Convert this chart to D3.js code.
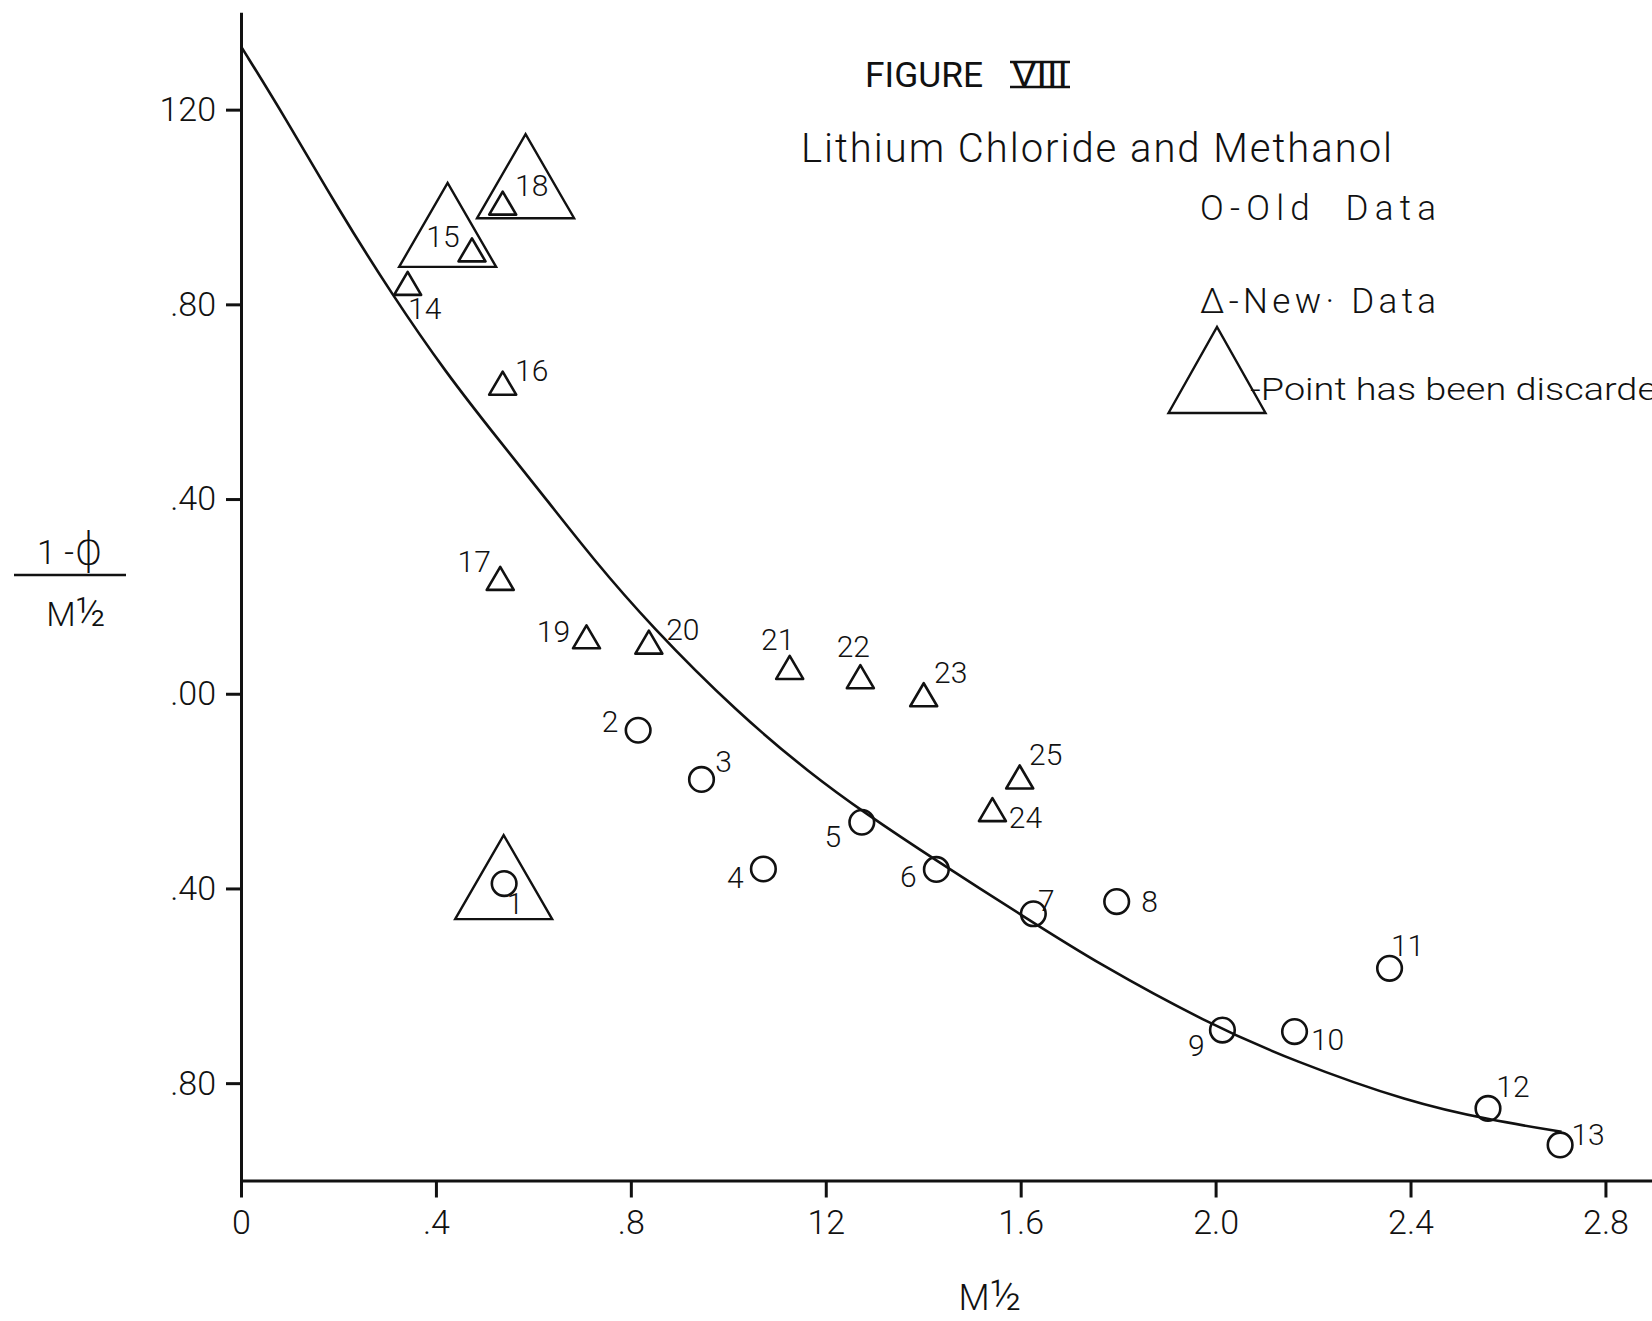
<!DOCTYPE html>
<html>
<head>
<meta charset="utf-8">
<script src="https://cdn.jsdelivr.net/npm/d3@7"></script>
<style>
  body { margin: 0; background: #fff; }
  svg { display: block; }
  text { font-family: "Roboto", "DejaVu Sans", sans-serif; font-weight: 300; fill: #111; white-space: pre; }
</style>
</head>
<body>
<script>
// Old data (circles), point number and M^1/2 , (1-phi)/M^1/2
const oldIds = [1, 2, 3, 4, 5, 6, 7, 8, 9, 10, 11, 12, 13];
const oldX = [0.540, 0.815, 0.945, 1.072, 1.274, 1.427, 1.626, 1.797, 2.014, 2.162, 2.357, 2.559, 2.707];
const oldY = [-0.390, -0.075, -0.176, -0.360, -0.264, -0.361, -0.452, -0.427, -0.691, -0.694, -0.564, -0.852, -0.927];

// New data (small triangles)
const newIds = [14, 15, 16, 17, 18, 19, 20, 21, 22, 23, 24, 25];
const newX = [0.342, 0.474, 0.537, 0.532, 0.537, 0.709, 0.837, 1.126, 1.271, 1.401, 1.542, 1.598];
const newY = [0.843, 0.912, 0.638, 0.237, 1.008, 0.117, 0.106, 0.054, 0.035, -0.002, -0.238, -0.171];

// Discarded points: big triangle, base midpoint
const discardedIds = [1, 15, 18];
const discardedX = [0.539, 0.424, 0.584];
const discardedY = [-0.463, 0.877, 0.977];

// Hand drawn fitted curve
const curveX = [0.00, 0.09, 0.20, 0.31, 0.42, 0.53, 0.63, 0.72, 0.84, 1.02, 1.17, 1.28, 1.43, 1.61, 1.76, 1.98, 2.16, 2.40, 2.56, 2.71];
const curveY = [1.33, 1.185, 0.995, 0.82, 0.66, 0.52, 0.395, 0.28, 0.14, -0.04, -0.165, -0.245, -0.345, -0.46, -0.555, -0.675, -0.755, -0.84, -0.875, -0.90];

const xTicks = [0, 0.4, 0.8, 1.2, 1.6, 2.0, 2.4, 2.8];
const xTickLabels = ['0', '.4', '.8', '12', '1.6', '2.0', '2.4', '2.8'];
const yTicks = [1.2, 0.8, 0.4, 0, -0.4, -0.8];
const yTickLabels = ['120', '.80', '.40', '.00', '.40', '.80'];

// label offsets (px) from each marker
const labelOffset = {
  1: [11, 20], 2: [-28, -9], 3: [22, -18], 4: [-28, 9], 5: [-29, 14], 6: [-28, 7],
  7: [13, -13], 8: [33, 0], 9: [-26, 15], 10: [33, 8], 11: [18, -23], 12: [25, -22],
  13: [28, -10], 14: [17, 25], 15: [-29, -13], 16: [29, -13], 17: [-26, -17],
  18: [29, -18], 19: [-33, -5], 20: [34, -13], 21: [-12, -28], 22: [-7, -30],
  23: [27, -22], 24: [33, 8], 25: [26, -22]
};

const W = 1652, H = 1321;
const svg = d3.select('body').append('svg')
    .attr('width', W)
    .attr('height', H);

const x = d3.scaleLinear().domain([0, 2.9]).range([241, 241 + 2.9 * 487.3]);
const y = d3.scaleLinear().domain([-1, 1.4]).range([1180.5, 12.3]);

const ink = '#111';

// Axes
const xAxis = svg.append('g')
    .attr('transform', `translate(0,${y(-1)})`)
    .call(d3.axisBottom(x).tickValues(xTicks).tickFormat((d, i) => xTickLabels[i])
        .tickSize(17).tickSizeOuter(0).tickPadding(12));

const yAxis = svg.append('g')
    .attr('transform', `translate(${x(0)},0)`)
    .call(d3.axisLeft(y).tickValues(yTicks).tickFormat((d, i) => yTickLabels[i])
        .tickSize(15).tickSizeOuter(0).tickPadding(10));

[xAxis, yAxis].forEach(g => {
  g.attr('font-family', null).attr('font-size', null);
  g.selectAll('path, line').attr('stroke', ink).attr('stroke-width', 3);
  g.selectAll('text').attr('fill', ink).style('font-size', '34px');
});

// Curve
const pts = curveX.map((d, i) => [d, curveY[i]]);
svg.append('path')
    .datum(pts)
    .attr('fill', 'none')
    .attr('stroke', ink)
    .attr('stroke-width', 2.6)
    .attr('d', d3.line().x(d => x(d[0])).y(d => y(d[1])).curve(d3.curveBasis));

const triPath = (cx, cy, w, h) =>
  `M${cx - w / 2},${cy + h / 2}L${cx},${cy - h / 2}L${cx + w / 2},${cy + h / 2}Z`;

// Old data circles
const oldData = oldIds.map((id, i) => ({ id, x: oldX[i], y: oldY[i] }));
svg.selectAll('.old')
    .data(oldData)
    .enter()
    .append('circle')
    .attr('cx', d => x(d.x))
    .attr('cy', d => y(d.y))
    .attr('r', 12.3)
    .attr('fill', 'none')
    .attr('stroke', ink)
    .attr('stroke-width', 2.6);

// New data triangles
const newData = newIds.map((id, i) => ({ id, x: newX[i], y: newY[i] }));
svg.selectAll('.new')
    .data(newData)
    .enter()
    .append('path')
    .attr('d', d => triPath(x(d.x), y(d.y), 27, 23))
    .attr('fill', 'none')
    .attr('stroke', ink)
    .attr('stroke-width', 2.6)
    .attr('stroke-linejoin', 'round');

// Discarded big triangles
const discData = discardedIds.map((id, i) => ({ id, x: discardedX[i], y: discardedY[i] }));
svg.selectAll('.disc')
    .data(discData)
    .enter()
    .append('path')
    .attr('d', d => triPath(x(d.x), y(d.y) - 42, 97, 84))
    .attr('fill', 'none')
    .attr('stroke', ink)
    .attr('stroke-width', 2.4);

// Point labels
svg.selectAll('.lab')
    .data(oldData.concat(newData))
    .enter()
    .append('text')
    .attr('x', d => x(d.x) + labelOffset[d.id][0])
    .attr('y', d => y(d.y) + labelOffset[d.id][1])
    .attr('text-anchor', 'middle')
    .attr('dominant-baseline', 'central')
    .style('font-size', '30px')
    .text(d => d.id);

// Title
svg.append('text').attr('x', 865).attr('y', 87)
    .attr('textLength', 118).attr('lengthAdjust', 'spacingAndGlyphs')
    .style('font-size', '35px').style('font-weight', 400).text('FIGURE');
const roman = svg.append('text').attr('x', 1012).attr('y', 87)
    .attr('textLength', 56).attr('lengthAdjust', 'spacingAndGlyphs')
    .style('font-size', '35px').style('font-weight', 400).text('VIII');
const rb = roman.node().getBBox();
[62, 87].forEach(yy => svg.append('line')
    .attr('x1', rb.x - 2).attr('x2', rb.x + rb.width + 2)
    .attr('y1', yy).attr('y2', yy)
    .attr('stroke', ink).attr('stroke-width', 2.4));

svg.append('text').attr('x', 801).attr('y', 162)
    .attr('textLength', 591).attr('lengthAdjust', 'spacing')
    .style('font-size', '40px').text('Lithium Chloride and Methanol');

// Legend
svg.append('text').attr('x', 1200).attr('y', 220)
    .attr('textLength', 236).attr('lengthAdjust', 'spacing')
    .style('font-size', '35px').text('O-Old  Data');
svg.append('text').attr('x', 1200).attr('y', 313)
    .attr('textLength', 236).attr('lengthAdjust', 'spacing')
    .style('font-size', '35px').text('Δ-New· Data');
svg.append('path')
    .attr('d', triPath(1217, 370, 97, 86))
    .attr('fill', 'none').attr('stroke', ink).attr('stroke-width', 2.4);
svg.append('text').attr('x', 1250).attr('y', 400)
    .attr('textLength', 428).attr('lengthAdjust', 'spacingAndGlyphs')
    .style('font-size', '32px').text('-Point has been discarded');

// Y axis label: (1 - phi) / M^1/2
const yl = svg.append('text').attr('x', 70).attr('y', 564)
    .attr('text-anchor', 'middle').style('font-size', '34px');
yl.append('tspan').text('1 -');
yl.append('tspan').style('font-size', '44px').text('ϕ');
svg.append('line').attr('x1', 14).attr('x2', 126).attr('y1', 575).attr('y2', 575)
    .attr('stroke', ink).attr('stroke-width', 2.6);
const ym = svg.append('text').attr('x', 76).attr('y', 626)
    .attr('text-anchor', 'middle').style('font-size', '34px');
ym.append('tspan').text('M');
ym.append('tspan').style('font-size', '40px').text('½');

// X axis label
const xm = svg.append('text').attr('x', 990).attr('y', 1310)
    .attr('text-anchor', 'middle').style('font-size', '36px');
xm.append('tspan').text('M');
xm.append('tspan').style('font-size', '42px').text('½');
</script>
</body>
</html>
